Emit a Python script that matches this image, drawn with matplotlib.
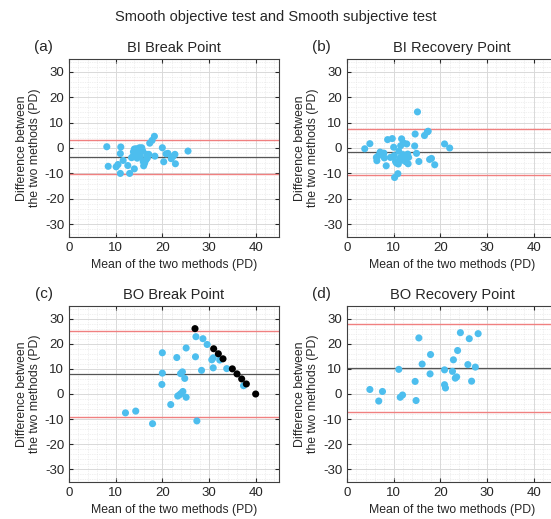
import numpy as np
import matplotlib
matplotlib.use("Agg")
import matplotlib.pyplot as plt
from matplotlib.ticker import MultipleLocator

plt.rcParams['font.family'] = ['Liberation Sans', 'DejaVu Sans']
plt.rcParams['axes.unicode_minus'] = False

# ── Bland-Altman data: mean of methods vs. difference (PD) ────────────────────

bi_break_mean = [8.1, 8.4, 10.1, 10.5, 11.1, 11.0, 11.0, 11.6, 12.6, 13.0, 13.4, 13.7,
                 14.0, 14.4, 14.0, 14.6, 15.0, 15.1, 15.3, 15.6, 15.8, 15.9, 16.0, 16.2,
                 16.5, 16.7, 16.8, 17.1, 17.3, 17.8, 18.3, 18.4, 20.0, 20.3, 20.8, 21.2,
                 21.9, 22.3, 22.7, 22.8, 25.5, 14.8, 13.8]
bi_break_diff = [0.5, -7.2, -7.4, -6.5, 0.4, -2.2, -10.0, -4.9, -6.9, -10.0, -3.8, -3.4,
                 -0.4, -0.3, -8.2, -4.0, -1.6, 0.1, -3.3, 0.1, -1.2, -5.3, -7.0, -6.0,
                 -4.7, -2.5, -3.9, -2.5, 1.9, 3.0, 4.6, -3.2, 0.1, -5.4, -2.3, -2.1,
                 -4.2, -3.3, -2.5, -6.2, -1.2, -2.0, -1.5]
bi_break_mu, bi_break_loa = -3.5, 6.7

bi_rec_mean = [3.8, 4.9, 6.3, 6.4, 6.8, 7.1, 7.5, 7.9, 8.0, 8.4, 8.7, 9.3, 9.7, 10.0,
               10.1, 10.2, 10.4, 10.6, 10.9, 11.0, 11.1, 11.4, 11.5, 11.7, 11.9, 12.0,
               12.1, 12.3, 12.6, 12.8, 13.0, 13.1, 13.2, 14.5, 14.6, 14.9, 15.1, 15.4,
               16.6, 17.2, 17.4, 17.7, 18.1, 18.8, 20.9, 22.0]
bi_rec_diff = [-0.3, 1.7, -3.7, -5.0, -2.9, -1.6, -2.4, -2.0, -3.9, -7.0, 3.3, -3.7,
               3.7, 0.3, -3.0, -11.6, -5.3, -5.9, -10.1, -6.3, -1.3, -3.9, 0.9, 3.6,
               -4.8, -2.6, 2.0, -3.4, -5.4, 1.6, -2.4, -6.2, -3.7, 0.8, 5.5, -2.1,
               14.2, -5.3, 4.9, 6.3, 6.6, -4.5, -4.1, -6.6, 1.6, 0.0]
bi_rec_mu, bi_rec_loa = -1.65, 9.15

bo_break_mean = [12.1, 14.3, 17.9, 19.9, 20.0, 20.0, 21.8, 23.1, 23.3, 23.7, 23.9, 24.0,
                 24.3, 24.4, 24.8, 25.1, 25.1, 27.1, 27.2, 27.4, 28.4, 28.7, 29.6, 30.6,
                 30.9, 30.9, 32.3, 33.8, 37.4]
bo_break_diff = [-7.5, -6.8, -11.8, 3.8, 8.3, 16.4, -4.2, 14.5, -0.8, -0.3, 8.1, 0.2,
                 8.8, 1.0, 6.2, -1.3, 18.3, 14.8, 22.8, -10.7, 9.4, 22.0, 19.7, 13.6,
                 14.4, 10.4, 13.5, 10.1, 3.3]
# cases where one method hit the 40 PD ceiling
bo_ceil_mean = [27, 31, 32, 33, 35, 36, 37, 38, 40]
bo_ceil_diff = [26, 18, 16, 14, 10, 8, 6, 4, 0]
bo_break_mu, bo_break_loa = 7.9, 17.1

bo_rec_mean = [4.9, 6.8, 7.6, 11.1, 11.4, 11.9, 14.6, 14.8, 15.4, 16.1, 17.8, 17.9,
               20.9, 20.9, 21.1, 22.6, 22.8, 23.2, 23.5, 23.7, 24.3, 25.9, 26.2, 26.7,
               27.5, 28.1]
bo_rec_diff = [1.8, -2.8, 1.0, 9.8, -1.3, -0.4, 5.0, -2.6, 22.3, 11.9, 8.0, 15.7,
               9.6, 3.7, 2.4, 9.0, 13.6, 6.3, 6.8, 17.3, 24.4, 11.7, 22.0, 5.1,
               10.7, 24.0]
bo_rec_mu, bo_rec_loa = 10.25, 17.45

BLUE = '#4DBEEE'
TEXT = '#262626'

fig = plt.figure(figsize=(5.51, 5.19), dpi=100)
fig.text(0.5, 0.967, 'Smooth objective test and Smooth subjective test',
         ha='center', va='center', fontsize=10.5, color=TEXT)

W, H = 210 / 551, 178 / 519
panels = [
    ('(a)', 'BI Break Point', [69 / 551, 282 / 519, W, H],
     bi_break_mean, bi_break_diff, bi_break_mu, bi_break_loa),
    ('(b)', 'BI Recovery Point', [347 / 551, 282 / 519, W, H],
     bi_rec_mean, bi_rec_diff, bi_rec_mu, bi_rec_loa),
    ('(c)', 'BO Break Point', [69 / 551, 37 / 519, W, 176 / 519],
     bo_break_mean, bo_break_diff, bo_break_mu, bo_break_loa),
    ('(d)', 'BO Recovery Point', [347 / 551, 37 / 519, W, 176 / 519],
     bo_rec_mean, bo_rec_diff, bo_rec_mu, bo_rec_loa),
]

for tag, title, rect, xs, ys, mu, loa in panels:
    ax = fig.add_axes(rect)
    ax.set_xlim(0, 45)
    ax.set_ylim(-35, 35)
    ax.xaxis.set_major_locator(MultipleLocator(10))
    ax.yaxis.set_major_locator(MultipleLocator(10))
    ax.xaxis.set_minor_locator(MultipleLocator(2))
    ax.yaxis.set_minor_locator(MultipleLocator(2))
    ax.grid(True, which='major', color='#d9d9d9', linewidth=0.7)
    ax.grid(True, which='minor', color='#e2e2e2', linewidth=0.5, linestyle=(0, (1, 1.5)))
    ax.set_axisbelow(True)

    ax.axhline(mu, color='#555555', linewidth=0.9)
    ax.axhline(mu + loa, color='#f08080', linewidth=1.0)
    ax.axhline(mu - loa, color='#f08080', linewidth=1.0)

    ax.scatter(xs, ys, s=26, color=BLUE, edgecolors='none', zorder=3)
    if tag == '(c)':
        ax.scatter(bo_ceil_mean, bo_ceil_diff, s=26, color='black',
                   edgecolors='none', zorder=4)

    ax.tick_params(which='both', direction='in', top=True, right=True,
                   labelsize=9.5, colors=TEXT, length=3)
    ax.tick_params(which='minor', length=0)
    for sp in ax.spines.values():
        sp.set_color('#404040')
        sp.set_linewidth(0.8)

    ax.set_title(title, fontsize=10.5, color=TEXT, pad=5)
    ax.set_xlabel('Mean of the two methods (PD)', fontsize=8.8, color=TEXT, labelpad=4)
    ax.set_ylabel('Difference between\nthe two methods (PD)', fontsize=8.8,
                  color=TEXT, labelpad=3, linespacing=1.1)
    ax.text(-0.12, 1.07, tag, transform=ax.transAxes, fontsize=11,
            ha='center', va='center', color=TEXT)

fig.savefig('out.png', dpi=100)
